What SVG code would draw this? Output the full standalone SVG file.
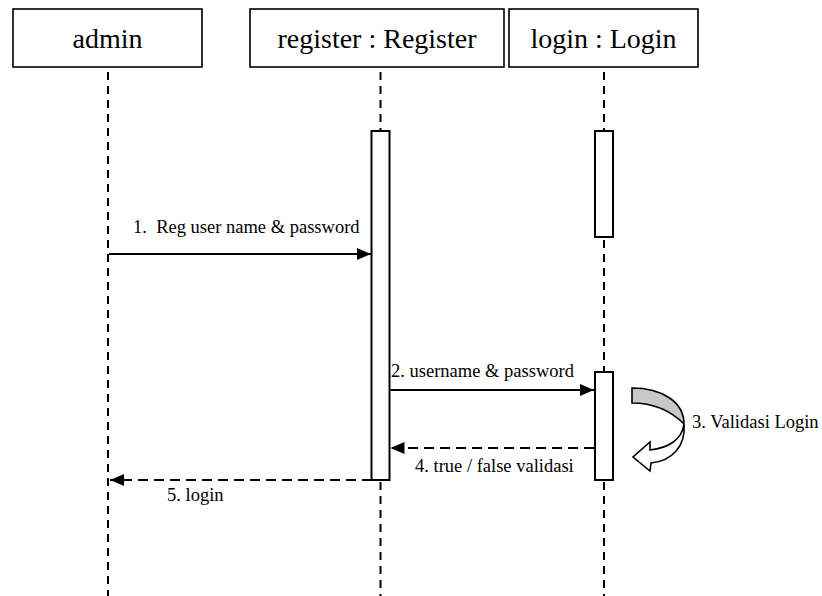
<svg xmlns="http://www.w3.org/2000/svg" width="822" height="596" viewBox="0 0 822 596">
  <defs>
    <style>
      .head { fill: #fff; stroke: #000; stroke-width: 1.6; }
      .head-text { font-family: "Liberation Serif", "Times New Roman", serif; font-size: 28px; fill: #000; text-anchor: middle; }
      .life { stroke: #000; stroke-width: 2; stroke-dasharray: 8 6; fill: none; }
      .act { fill: #fff; stroke: #000; stroke-width: 2; }
      .msg { stroke: #000; stroke-width: 2.2; fill: none; }
      .ret { stroke: #000; stroke-width: 2.2; fill: none; stroke-dasharray: 10 6; }
      .label { font-family: "Liberation Serif", "Times New Roman", serif; font-size: 18.5px; fill: #000; }
    </style>
    <marker id="arrow" viewBox="0 0 14 12" refX="14" refY="6" markerWidth="14" markerHeight="12" markerUnits="userSpaceOnUse" orient="auto">
      <path d="M0,0 L14,6 L0,12 Z" fill="#000"/>
    </marker>
  </defs>

  <!-- lifelines -->
  <g id="lifelines">
    <line class="life" x1="108" y1="72" x2="108" y2="596"/>
    <line class="life" x1="380.5" y1="72" x2="380.5" y2="130"/>
    <line class="life" x1="380.5" y1="482" x2="380.5" y2="596"/>
    <line class="life" x1="604" y1="72" x2="604" y2="130"/>
    <line class="life" x1="604" y1="240" x2="604" y2="372"/>
    <line class="life" x1="604" y1="482" x2="604" y2="596"/>
  </g>

  <!-- participant heads -->
  <g id="admin">
    <rect class="head" x="13" y="9" width="189" height="58"/>
    <text class="head-text" x="107.5" y="48">admin</text>
  </g>
  <g id="register">
    <rect class="head" x="250" y="9" width="254" height="58"/>
    <text class="head-text" x="377" y="48">register : Register</text>
  </g>
  <g id="login">
    <rect class="head" x="509" y="9" width="189" height="58"/>
    <text class="head-text" x="603.5" y="48">login : Login</text>
  </g>

  <!-- activation bars -->
  <g id="register-activation">
    <rect class="act" x="371.5" y="131" width="18" height="349"/>
  </g>
  <g id="login-activation-1">
    <rect class="act" x="595" y="131" width="18" height="106"/>
  </g>
  <g id="login-activation-2">
    <rect class="act" x="595" y="372" width="18" height="108"/>
  </g>

  <!-- messages -->
  <g id="connectors">
    <line class="msg" x1="109" y1="254" x2="371" y2="254" marker-end="url(#arrow)"/>
    <line class="msg" x1="390.5" y1="390" x2="594" y2="390" marker-end="url(#arrow)"/>
    <line class="ret" x1="594" y1="448" x2="390.5" y2="448" marker-end="url(#arrow)"/>
    <line class="ret" x1="372" y1="480" x2="110" y2="480" marker-end="url(#arrow)"/>

    <!-- self call: curved block arrow -->
    <g id="self-call" stroke="#000" stroke-width="1.6" stroke-linejoin="miter">
      <path d="M632,388 C662,388 684,402 684,424 C670,410 652,403 632,403 Z" fill="#c8c8c8"/>
      <path d="M684,424 C682,440 668,448 650,450 L650,442 L633,457 L650,471 L651,463 C672,461 686,446 684,424 Z" fill="#fff"/>
    </g>
  </g>

  <!-- message labels -->
  <g id="labels">
    <text class="label" x="133" y="233" xml:space="preserve">1.  Reg user name &amp; password</text>
    <text class="label" x="391" y="377">2. username &amp; password</text>
    <text class="label" x="692" y="428">3. Validasi Login</text>
    <text class="label" x="415" y="472">4. true / false validasi</text>
    <text class="label" x="167" y="501">5. login</text>
  </g>
</svg>
